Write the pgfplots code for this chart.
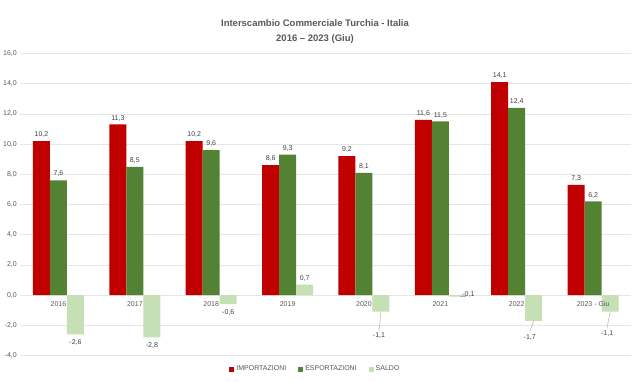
\documentclass[border=0pt]{standalone}
\usepackage{fontspec}
\setmainfont{Liberation Sans}
\usepackage{pgfplots}
\pgfplotsset{compat=1.18}
\usepackage{pgfplotstable}
\definecolor{imp}{HTML}{C00000}
\definecolor{esp}{HTML}{548235}
\definecolor{sal}{HTML}{C5E0B4}
\definecolor{txt}{HTML}{595959}
\definecolor{lbl}{HTML}{404040}
\definecolor{gridc}{HTML}{E6E6E6}

\pgfplotstableread{
x y
0 10.2
1 11.3
2 10.2
3 8.6
4 9.2
5 11.6
6 14.1
7 7.3
}\impdata
\pgfplotstableread{
x y
0 7.6
1 8.5
2 9.6
3 9.3
4 8.1
5 11.5
6 12.4
7 6.2
}\espdata
\pgfplotstableread{
x y dx dy
0 -2.6 0 -8
1 -2.8 0 -8
2 -0.6 0 -8
3 0.7 0 6.5
4 -1.1 -2 -24
5 -0.1 11 2
6 -1.7 -4 -17
7 -1.1 -3 -22
}\saldata

\tikzset{xl/.style={font=\fontsize{7}{8}\selectfont, text=txt, anchor=center, yshift=-9pt}}

\begin{document}
\begin{tikzpicture}
\path[use as bounding box] (0,0) rectangle (642pt,381pt);
\node[font=\bfseries\fontsize{9.5}{14.5}\selectfont, text=txt, align=center] at (315pt,349.5pt) {Interscambio Commerciale Turchia - Italia\\2016 -- 2023 (Giu)};
\begin{axis}[
  at={(20.3pt,25.5pt)}, anchor=south west,
  scale only axis, width=611pt, height=302pt,
  ybar=0pt, bar width=17pt,
  xmin=-0.5, xmax=7.5, ymin=-4, ymax=16,
  ytick={-4,-2,0,2,4,6,8,10,12,14,16},
  xtick=data,
  xticklabels={},
  yticklabel style={font=\fontsize{7}{8}\selectfont, text=txt},
  /pgf/number format/.cd, fixed, fixed zerofill, precision=1, use comma, assume math mode=true,
  /pgfplots/.cd,
  ymajorgrids, major grid style={draw=gridc, line width=0.8pt},
  axis line style={draw=none},
  major tick style={draw=none},
  nodes near coords,
  every node near coord/.append style={font=\fontsize{7}{8}\selectfont, text=lbl},
  legend style={at={(0.483,-0.045)}, anchor=center, draw=none, legend columns=-1,
    font=\fontsize{7}{8}\selectfont, text=txt,
    /tikz/every even column/.append style={column sep=10pt}},
  legend image code/.code={\fill[#1] (0pt,-2.5pt) rectangle (5pt,2.5pt);},
]
\addplot[fill=imp, draw=none] table[x=x,y=y] {\impdata};
\addplot[fill=esp, draw=none] table[x=x,y=y] {\espdata};
\addplot[fill=sal, draw=none,
  visualization depends on={\thisrow{dx} \as \dx},
  visualization depends on={\thisrow{dy} \as \dy},
  every node near coord/.append style={anchor=center, xshift=\dx pt, yshift=\dy pt}
  ] table[x=x,y=y] {\saldata};
\legend{IMPORTAZIONI,ESPORTAZIONI,SALDO}
\draw[gray!60, line width=0.5pt] ([xshift=17pt]axis cs:4,-1.1) -- ([xshift=15pt,yshift=-19pt]axis cs:4,-1.1);
\draw[gray!60, line width=0.5pt] ([xshift=17pt]axis cs:6,-1.7) -- ([xshift=13pt,yshift=-11pt]axis cs:6,-1.7);
\draw[gray!60, line width=0.5pt] ([xshift=17pt]axis cs:7,-1.1) -- ([xshift=14pt,yshift=-16pt]axis cs:7,-1.1);
\draw[gray!60, line width=0.5pt] ([xshift=25.5pt]axis cs:5,-0.1) -- ([xshift=20pt]axis cs:5,-0.1);
\node[xl] at (axis cs:0,0) {2016};
\node[xl] at (axis cs:1,0) {2017};
\node[xl] at (axis cs:2,0) {2018};
\node[xl] at (axis cs:3,0) {2019};
\node[xl] at (axis cs:4,0) {2020};
\node[xl] at (axis cs:5,0) {2021};
\node[xl] at (axis cs:6,0) {2022};
\node[xl] at (axis cs:7,0) {2023 - Giu};
\end{axis}
\end{tikzpicture}
\end{document}
